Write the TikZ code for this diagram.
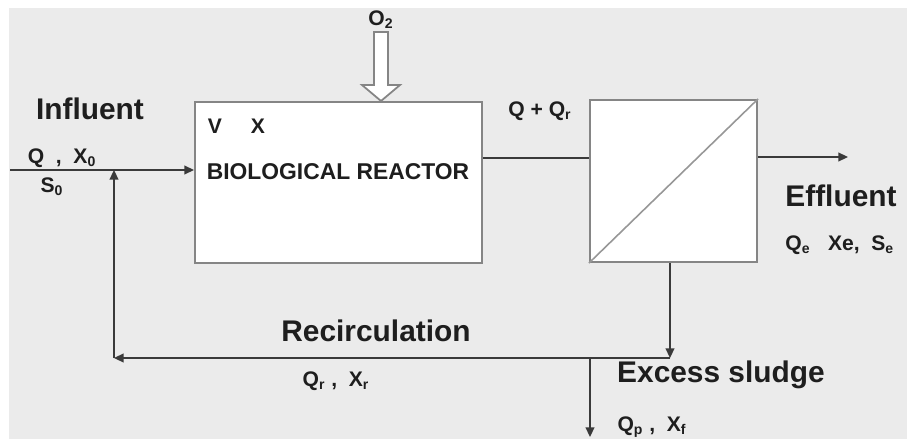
\documentclass[tikz,border=0pt]{standalone}
\usepackage{fontspec}
\setmainfont{Liberation Sans}
\usetikzlibrary{arrows.meta,positioning,calc}
\definecolor{BgGray}{HTML}{EBEBEB}
\definecolor{LineGray}{HTML}{3A3A3A}
\definecolor{BoxGray}{HTML}{858585}
\definecolor{TxtDark}{HTML}{1E1E1E}

\begin{document}
\begin{tikzpicture}[
  x=0.02cm,y=-0.02cm,
  unit/.style={draw=BoxGray,fill=white,line width=1.2pt,inner sep=0pt},
  lbl/.style={font={\fontsize{17}{19}\selectfont\bfseries},text=TxtDark,inner sep=0pt},
  qty/.style={font={\fontsize{12}{14}\selectfont\bfseries},text=TxtDark,inner sep=0pt},
  flow/.style={draw=LineGray,line width=1pt},
  arr/.style={flow,-{Triangle[length=5.5pt,width=5pt]}}
]
\fill[white] (0,0) rectangle (907,439);
\fill[BgGray] (9,8) rectangle (907,439);
\useasboundingbox (0,0) rectangle (907,439);

\node[unit,minimum width=5.74cm,minimum height=3.22cm] (reactor) at (338.5,182.5) {};
\node[unit,minimum width=3.34cm,minimum height=3.24cm] (membrane) at (673.5,181) {};
\draw[draw=BoxGray!85,line width=0.9pt] (membrane.south west) -- (membrane.north east);

\node[qty] (vol) at (215,126) {V};
\node[qty] (conc) at (258,126) {X};
\node[qty,font={\fontsize{13}{15}\selectfont\bfseries}] (title) at (338,172) {BIOLOGICAL REACTOR};

\node[qty] (o2) at (381,20) {O\textsubscript{2}};
\draw[draw=BoxGray,fill=white,line width=1pt] (374,32) -- (388,32) -- (388,85) -- (400,85)
  -- (381,101) -- (362,85) -- (374,85) -- cycle;

\coordinate (feed) at (10,170);
\draw[arr] (feed) -- (feed -| reactor.west);
\node[lbl] (influent) at (90,109) {Influent};
\node[qty] (feedq) at (62,158) {Q\ \ ,\ \ X\textsubscript{0}};
\node[qty] (feeds) at (52,187) {S\textsubscript{0}};

\coordinate (mixlevel) at (0,158);
\draw[flow] (reactor.east |- mixlevel) -- (membrane.west |- mixlevel);
\node[qty] (mixq) at (540,111) {Q + Q\textsubscript{r}};

\coordinate (effend) at (848,157);
\draw[arr] (membrane.east |- effend) -- (effend);
\node[lbl] (effluent) at (841,196) {Effluent};
\node[qty,anchor=west] (effq) at (785,245) {Q\textsubscript{e}\ \ \ Xe,\ \ S\textsubscript{e}};

\coordinate (split) at (670,358);
\coordinate (ret) at (114,358);
\draw[arr] (membrane.south -| split) -- (split);
\draw[arr] (split) -- (ret);
\draw[arr] (ret) -- (ret |- feed);
\node[lbl] (recirc) at (376,331) {Recirculation};
\node[qty] (recq) at (336,381) {Q\textsubscript{r}\ ,\ \ X\textsubscript{r}};

\coordinate (purge) at (590,358);
\coordinate (waste) at (590,437);
\draw[arr] (purge) -- (waste);
\node[lbl] (excess) at (721,375) {Excess sludge};
\node[qty] (wasteq) at (652,427) {Q\textsubscript{p}\ ,\ \ X\textsubscript{f}};
\end{tikzpicture}
\end{document}
